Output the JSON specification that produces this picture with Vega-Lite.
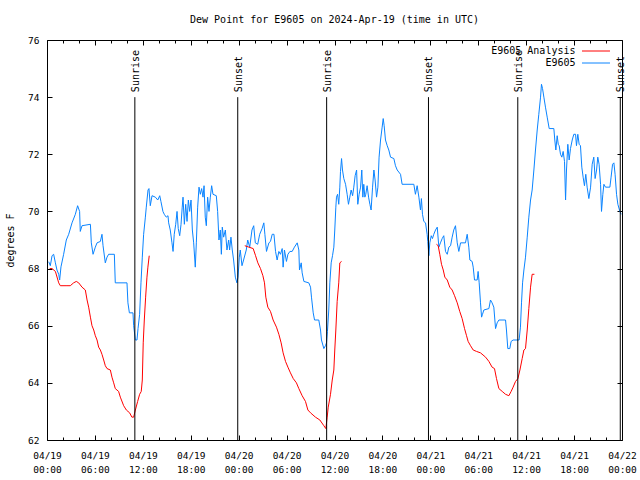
{
  "$schema": "https://vega.github.io/schema/vega-lite/v6.json",
  "width": 575,
  "height": 400,
  "autosize": {"type": "none"},
  "padding": {"left": 47, "top": 40, "right": 18, "bottom": 40},
  "background": "white",
  "title": {"text": "Dew Point for E9605 on 2024-Apr-19 (time in UTC)", "font": "DejaVu Sans Mono", "fontSize": 10, "fontWeight": "normal", "color": "black", "offset": 10, "anchor": "middle"},
  "config": {
    "view": {"stroke": "black", "strokeWidth": 1},
    "font": "DejaVu Sans Mono",
    "legend": {"orient": "none", "legendX": 542.5, "legendY": 4.5, "title": null, "symbolType": "M-2.333,0H2.333", "symbolSize": 144, "symbolStrokeWidth": 1, "labelFont": "DejaVu Sans Mono", "labelFontSize": 10, "labelColor": "black", "labelAlign": "right", "labelOffset": -27, "padding": 0, "rowPadding": 0, "labelLimit": 300}
  },
  "datasets": {
    "blue": [
      {"t":"2024-04-19T00:13Z","v":68.24},{"t":"2024-04-19T00:25Z","v":68.1},{"t":"2024-04-19T00:38Z","v":68.45},{"t":"2024-04-19T00:50Z","v":68.5},{"t":"2024-04-19T01:03Z","v":68.2},{"t":"2024-04-19T01:15Z","v":67.95},{"t":"2024-04-19T01:28Z","v":67.8},{"t":"2024-04-19T01:35Z","v":67.6},{"t":"2024-04-19T01:45Z","v":68.06},{"t":"2024-04-19T02:05Z","v":68.5},{"t":"2024-04-19T02:25Z","v":69.0},{"t":"2024-04-19T02:43Z","v":69.2},{"t":"2024-04-19T03:08Z","v":69.6},{"t":"2024-04-19T03:33Z","v":69.9},{"t":"2024-04-19T03:50Z","v":70.2},{"t":"2024-04-19T04:05Z","v":70.0},{"t":"2024-04-19T04:10Z","v":69.3},{"t":"2024-04-19T04:23Z","v":69.5},{"t":"2024-04-19T05:26Z","v":69.55},{"t":"2024-04-19T05:33Z","v":68.9},{"t":"2024-04-19T05:46Z","v":68.5},{"t":"2024-04-19T06:03Z","v":68.75},{"t":"2024-04-19T06:16Z","v":68.9},{"t":"2024-04-19T06:41Z","v":68.95},{"t":"2024-04-19T06:53Z","v":69.2},{"t":"2024-04-19T07:01Z","v":68.8},{"t":"2024-04-19T07:18Z","v":68.2},{"t":"2024-04-19T07:31Z","v":68.4},{"t":"2024-04-19T07:43Z","v":68.5},{"t":"2024-04-19T08:26Z","v":68.5},{"t":"2024-04-19T08:33Z","v":67.5},{"t":"2024-04-19T10:01Z","v":67.5},{"t":"2024-04-19T10:08Z","v":66.8},{"t":"2024-04-19T10:19Z","v":66.45},{"t":"2024-04-19T10:46Z","v":66.45},{"t":"2024-04-19T10:51Z","v":66.0},{"t":"2024-04-19T11:04Z","v":65.5},{"t":"2024-04-19T11:16Z","v":65.5},{"t":"2024-04-19T11:24Z","v":65.9},{"t":"2024-04-19T11:36Z","v":66.4},{"t":"2024-04-19T11:46Z","v":67.5},{"t":"2024-04-19T11:56Z","v":68.4},{"t":"2024-04-19T12:06Z","v":69.2},{"t":"2024-04-19T12:19Z","v":69.8},{"t":"2024-04-19T12:26Z","v":70.15},{"t":"2024-04-19T12:39Z","v":70.75},{"t":"2024-04-19T12:46Z","v":70.8},{"t":"2024-04-19T12:56Z","v":70.2},{"t":"2024-04-19T13:09Z","v":70.55},{"t":"2024-04-19T13:34Z","v":70.5},{"t":"2024-04-19T13:52Z","v":70.4},{"t":"2024-04-19T14:07Z","v":70.55},{"t":"2024-04-19T14:16Z","v":70.35},{"t":"2024-04-19T14:31Z","v":70.0},{"t":"2024-04-19T14:41Z","v":69.9},{"t":"2024-04-19T14:56Z","v":69.8},{"t":"2024-04-19T15:09Z","v":69.85},{"t":"2024-04-19T15:14Z","v":69.6},{"t":"2024-04-19T15:26Z","v":69.35},{"t":"2024-04-19T15:39Z","v":68.9},{"t":"2024-04-19T15:47Z","v":68.6},{"t":"2024-04-19T15:56Z","v":69.2},{"t":"2024-04-19T16:07Z","v":69.55},{"t":"2024-04-19T16:17Z","v":70.0},{"t":"2024-04-19T16:26Z","v":69.4},{"t":"2024-04-19T16:37Z","v":69.15},{"t":"2024-04-19T16:47Z","v":69.55},{"t":"2024-04-19T16:56Z","v":70.15},{"t":"2024-04-19T17:02Z","v":70.5},{"t":"2024-04-19T17:12Z","v":69.55},{"t":"2024-04-19T17:22Z","v":70.25},{"t":"2024-04-19T17:32Z","v":69.65},{"t":"2024-04-19T17:42Z","v":70.4},{"t":"2024-04-19T17:52Z","v":70.0},{"t":"2024-04-19T18:02Z","v":70.4},{"t":"2024-04-19T18:12Z","v":69.35},{"t":"2024-04-19T18:22Z","v":68.9},{"t":"2024-04-19T18:34Z","v":68.05},{"t":"2024-04-19T18:42Z","v":68.9},{"t":"2024-04-19T18:52Z","v":70.15},{"t":"2024-04-19T19:02Z","v":70.85},{"t":"2024-04-19T19:12Z","v":70.6},{"t":"2024-04-19T19:22Z","v":70.8},{"t":"2024-04-19T19:32Z","v":70.5},{"t":"2024-04-19T19:40Z","v":70.9},{"t":"2024-04-19T19:49Z","v":69.8},{"t":"2024-04-19T19:57Z","v":69.5},{"t":"2024-04-19T20:07Z","v":70.5},{"t":"2024-04-19T20:17Z","v":70.0},{"t":"2024-04-19T20:27Z","v":70.5},{"t":"2024-04-19T20:37Z","v":70.9},{"t":"2024-04-19T20:47Z","v":70.6},{"t":"2024-04-19T21:12Z","v":70.55},{"t":"2024-04-19T21:22Z","v":70.0},{"t":"2024-04-19T21:32Z","v":69.0},{"t":"2024-04-19T21:42Z","v":69.35},{"t":"2024-04-19T21:50Z","v":68.5},{"t":"2024-04-19T21:57Z","v":69.45},{"t":"2024-04-19T22:07Z","v":69.1},{"t":"2024-04-19T22:20Z","v":69.35},{"t":"2024-04-19T22:32Z","v":68.65},{"t":"2024-04-19T22:45Z","v":69.0},{"t":"2024-04-19T22:52Z","v":68.65},{"t":"2024-04-19T23:02Z","v":69.1},{"t":"2024-04-19T23:12Z","v":68.65},{"t":"2024-04-19T23:22Z","v":68.3},{"t":"2024-04-19T23:35Z","v":67.7},{"t":"2024-04-19T23:47Z","v":67.5},{"t":"2024-04-19T23:55Z","v":67.7},
      {"t":"2024-04-20T00:05Z","v":68.4},{"t":"2024-04-20T00:12Z","v":68.65},{"t":"2024-04-20T00:25Z","v":68.1},{"t":"2024-04-20T00:37Z","v":68.3},{"t":"2024-04-20T00:57Z","v":68.65},{"t":"2024-04-20T01:08Z","v":69.0},{"t":"2024-04-20T01:23Z","v":68.75},{"t":"2024-04-20T01:40Z","v":69.35},{"t":"2024-04-20T01:53Z","v":69.5},{"t":"2024-04-20T02:05Z","v":68.9},{"t":"2024-04-20T02:23Z","v":68.85},{"t":"2024-04-20T02:38Z","v":69.2},{"t":"2024-04-20T02:56Z","v":69.4},{"t":"2024-04-20T03:09Z","v":69.6},{"t":"2024-04-20T03:17Z","v":69.2},{"t":"2024-04-20T03:29Z","v":68.6},{"t":"2024-04-20T03:47Z","v":68.9},{"t":"2024-04-20T03:59Z","v":68.95},{"t":"2024-04-20T04:12Z","v":69.2},{"t":"2024-04-20T04:25Z","v":69.2},{"t":"2024-04-20T04:37Z","v":68.6},{"t":"2024-04-20T04:49Z","v":68.3},{"t":"2024-04-20T05:02Z","v":68.6},{"t":"2024-04-20T05:14Z","v":68.5},{"t":"2024-04-20T05:27Z","v":68.7},{"t":"2024-04-20T05:34Z","v":68.05},{"t":"2024-04-20T05:44Z","v":68.65},{"t":"2024-04-20T05:59Z","v":68.25},{"t":"2024-04-20T06:10Z","v":68.5},{"t":"2024-04-20T06:25Z","v":68.6},{"t":"2024-04-20T06:42Z","v":68.6},{"t":"2024-04-20T06:59Z","v":68.75},{"t":"2024-04-20T07:20Z","v":68.9},{"t":"2024-04-20T07:32Z","v":68.65},{"t":"2024-04-20T07:37Z","v":67.95},{"t":"2024-04-20T07:50Z","v":68.2},{"t":"2024-04-20T07:57Z","v":67.85},{"t":"2024-04-20T08:10Z","v":67.55},{"t":"2024-04-20T08:47Z","v":67.5},{"t":"2024-04-20T09:00Z","v":67.35},{"t":"2024-04-20T09:07Z","v":67.0},{"t":"2024-04-20T09:20Z","v":66.45},{"t":"2024-04-20T09:30Z","v":66.2},{"t":"2024-04-20T10:02Z","v":66.2},{"t":"2024-04-20T10:15Z","v":65.85},{"t":"2024-04-20T10:22Z","v":65.5},{"t":"2024-04-20T10:40Z","v":65.2},{"t":"2024-04-20T10:52Z","v":65.3},{"t":"2024-04-20T11:00Z","v":65.4},{"t":"2024-04-20T11:07Z","v":65.8},{"t":"2024-04-20T11:17Z","v":66.55},{"t":"2024-04-20T11:25Z","v":67.5},{"t":"2024-04-20T11:35Z","v":68.2},{"t":"2024-04-20T11:45Z","v":68.45},{"t":"2024-04-20T11:55Z","v":68.75},{"t":"2024-04-20T12:02Z","v":69.35},{"t":"2024-04-20T12:10Z","v":70.15},{"t":"2024-04-20T12:15Z","v":70.5},{"t":"2024-04-20T12:23Z","v":70.6},{"t":"2024-04-20T12:32Z","v":70.25},{"t":"2024-04-20T12:40Z","v":70.85},{"t":"2024-04-20T12:45Z","v":71.4},{"t":"2024-04-20T12:53Z","v":71.85},{"t":"2024-04-20T13:00Z","v":71.45},{"t":"2024-04-20T13:10Z","v":71.15},{"t":"2024-04-20T13:23Z","v":70.95},{"t":"2024-04-20T13:35Z","v":70.6},{"t":"2024-04-20T13:45Z","v":70.25},{"t":"2024-04-20T13:55Z","v":70.5},{"t":"2024-04-20T14:05Z","v":70.75},{"t":"2024-04-20T14:16Z","v":70.55},{"t":"2024-04-20T14:25Z","v":70.85},{"t":"2024-04-20T14:35Z","v":71.25},{"t":"2024-04-20T14:46Z","v":71.45},{"t":"2024-04-20T14:55Z","v":70.25},{"t":"2024-04-20T15:05Z","v":70.6},{"t":"2024-04-20T15:16Z","v":70.85},{"t":"2024-04-20T15:25Z","v":71.45},{"t":"2024-04-20T15:33Z","v":70.5},{"t":"2024-04-20T15:40Z","v":70.95},{"t":"2024-04-20T15:48Z","v":70.5},{"t":"2024-04-20T15:55Z","v":70.6},{"t":"2024-04-20T16:05Z","v":70.9},{"t":"2024-04-20T16:16Z","v":70.5},{"t":"2024-04-20T16:26Z","v":70.25},{"t":"2024-04-20T16:35Z","v":70.05},{"t":"2024-04-20T16:46Z","v":70.85},{"t":"2024-04-20T16:56Z","v":71.45},{"t":"2024-04-20T17:05Z","v":71.1},{"t":"2024-04-20T17:16Z","v":70.5},{"t":"2024-04-20T17:26Z","v":70.85},{"t":"2024-04-20T17:35Z","v":71.9},{"t":"2024-04-20T17:46Z","v":72.5},{"t":"2024-04-20T17:58Z","v":72.95},{"t":"2024-04-20T18:06Z","v":73.25},{"t":"2024-04-20T18:13Z","v":73.0},{"t":"2024-04-20T18:23Z","v":72.5},{"t":"2024-04-20T18:36Z","v":72.3},{"t":"2024-04-20T18:48Z","v":72.15},{"t":"2024-04-20T19:01Z","v":71.9},{"t":"2024-04-20T19:26Z","v":71.85},{"t":"2024-04-20T19:38Z","v":71.6},{"t":"2024-04-20T19:51Z","v":71.45},{"t":"2024-04-20T20:16Z","v":71.3},{"t":"2024-04-20T20:28Z","v":70.95},{"t":"2024-04-20T21:56Z","v":70.95},{"t":"2024-04-20T22:08Z","v":70.6},{"t":"2024-04-20T22:21Z","v":70.9},{"t":"2024-04-20T22:34Z","v":70.5},{"t":"2024-04-20T22:46Z","v":70.05},{"t":"2024-04-20T22:53Z","v":70.45},{"t":"2024-04-20T23:01Z","v":69.9},{"t":"2024-04-20T23:11Z","v":69.65},{"t":"2024-04-20T23:24Z","v":69.6},{"t":"2024-04-20T23:36Z","v":69.2},{"t":"2024-04-20T23:41Z","v":68.95},{"t":"2024-04-20T23:49Z","v":68.45},{"t":"2024-04-20T23:56Z","v":68.9},
      {"t":"2024-04-21T00:07Z","v":69.15},{"t":"2024-04-21T00:16Z","v":69.05},{"t":"2024-04-21T00:26Z","v":69.2},{"t":"2024-04-21T00:39Z","v":69.35},{"t":"2024-04-21T00:52Z","v":69.45},{"t":"2024-04-21T01:04Z","v":68.75},{"t":"2024-04-21T01:16Z","v":68.9},{"t":"2024-04-21T01:29Z","v":69.05},{"t":"2024-04-21T01:41Z","v":69.15},{"t":"2024-04-21T01:54Z","v":68.6},{"t":"2024-04-21T02:07Z","v":68.5},{"t":"2024-04-21T02:19Z","v":68.75},{"t":"2024-04-21T02:32Z","v":68.8},{"t":"2024-04-21T02:44Z","v":69.1},{"t":"2024-04-21T02:56Z","v":69.35},{"t":"2024-04-21T03:09Z","v":69.5},{"t":"2024-04-21T03:22Z","v":68.9},{"t":"2024-04-21T03:34Z","v":68.6},{"t":"2024-04-21T03:47Z","v":68.9},{"t":"2024-04-21T04:24Z","v":68.9},{"t":"2024-04-21T04:37Z","v":69.2},{"t":"2024-04-21T04:49Z","v":68.75},{"t":"2024-04-21T04:57Z","v":68.3},{"t":"2024-04-21T05:14Z","v":68.25},{"t":"2024-04-21T05:22Z","v":68.05},{"t":"2024-04-21T05:32Z","v":67.6},{"t":"2024-04-21T05:52Z","v":67.6},{"t":"2024-04-21T05:59Z","v":67.9},{"t":"2024-04-21T06:07Z","v":67.5},{"t":"2024-04-21T06:17Z","v":66.8},{"t":"2024-04-21T06:25Z","v":66.3},{"t":"2024-04-21T06:32Z","v":66.4},{"t":"2024-04-21T06:42Z","v":66.55},{"t":"2024-04-21T07:20Z","v":66.6},{"t":"2024-04-21T07:32Z","v":66.9},{"t":"2024-04-21T07:44Z","v":66.8},{"t":"2024-04-21T07:57Z","v":66.65},{"t":"2024-04-21T08:10Z","v":65.9},{"t":"2024-04-21T08:22Z","v":66.1},{"t":"2024-04-21T08:35Z","v":66.2},{"t":"2024-04-21T09:25Z","v":66.2},{"t":"2024-04-21T09:32Z","v":65.85},{"t":"2024-04-21T09:42Z","v":65.2},{"t":"2024-04-21T09:57Z","v":65.2},{"t":"2024-04-21T10:07Z","v":65.45},{"t":"2024-04-21T10:22Z","v":65.5},{"t":"2024-04-21T11:07Z","v":65.5},{"t":"2024-04-21T11:17Z","v":65.95},{"t":"2024-04-21T11:25Z","v":66.8},{"t":"2024-04-21T11:33Z","v":67.5},{"t":"2024-04-21T11:43Z","v":67.95},{"t":"2024-04-21T11:55Z","v":68.4},{"t":"2024-04-21T12:08Z","v":69.1},{"t":"2024-04-21T12:20Z","v":69.8},{"t":"2024-04-21T12:33Z","v":70.4},{"t":"2024-04-21T12:45Z","v":70.75},{"t":"2024-04-21T12:58Z","v":71.45},{"t":"2024-04-21T13:10Z","v":72.15},{"t":"2024-04-21T13:23Z","v":72.85},{"t":"2024-04-21T13:35Z","v":73.4},{"t":"2024-04-21T13:48Z","v":74.0},{"t":"2024-04-21T13:55Z","v":74.45},{"t":"2024-04-21T14:03Z","v":74.3},{"t":"2024-04-21T14:13Z","v":74.0},{"t":"2024-04-21T14:25Z","v":73.65},{"t":"2024-04-21T14:38Z","v":73.3},{"t":"2024-04-21T14:53Z","v":72.9},{"t":"2024-04-21T15:28Z","v":72.9},{"t":"2024-04-21T15:35Z","v":72.5},{"t":"2024-04-21T15:43Z","v":72.15},{"t":"2024-04-21T15:53Z","v":72.65},{"t":"2024-04-21T16:01Z","v":72.35},{"t":"2024-04-21T16:08Z","v":72.3},{"t":"2024-04-21T16:18Z","v":72.0},{"t":"2024-04-21T16:28Z","v":71.9},{"t":"2024-04-21T16:38Z","v":72.1},{"t":"2024-04-21T16:48Z","v":71.75},{"t":"2024-04-21T16:56Z","v":70.4},{"t":"2024-04-21T17:03Z","v":71.45},{"t":"2024-04-21T17:13Z","v":72.35},{"t":"2024-04-21T17:23Z","v":71.8},{"t":"2024-04-21T17:33Z","v":72.2},{"t":"2024-04-21T17:46Z","v":72.5},{"t":"2024-04-21T17:58Z","v":72.7},{"t":"2024-04-21T18:11Z","v":72.7},{"t":"2024-04-21T18:18Z","v":72.3},{"t":"2024-04-21T18:28Z","v":72.7},{"t":"2024-04-21T18:38Z","v":72.35},{"t":"2024-04-21T18:48Z","v":72.3},{"t":"2024-04-21T18:58Z","v":71.55},{"t":"2024-04-21T19:08Z","v":71.2},{"t":"2024-04-21T19:18Z","v":70.9},{"t":"2024-04-21T19:28Z","v":71.3},{"t":"2024-04-21T19:38Z","v":70.85},{"t":"2024-04-21T19:51Z","v":70.45},{"t":"2024-04-21T20:04Z","v":70.85},{"t":"2024-04-21T20:16Z","v":71.65},{"t":"2024-04-21T20:28Z","v":71.9},{"t":"2024-04-21T20:38Z","v":71.15},{"t":"2024-04-21T20:49Z","v":71.45},{"t":"2024-04-21T20:58Z","v":71.9},{"t":"2024-04-21T21:08Z","v":71.65},{"t":"2024-04-21T21:19Z","v":70.95},{"t":"2024-04-21T21:26Z","v":70.0},{"t":"2024-04-21T21:36Z","v":70.6},{"t":"2024-04-21T21:44Z","v":70.95},{"t":"2024-04-21T21:56Z","v":70.85},{"t":"2024-04-21T22:29Z","v":70.85},{"t":"2024-04-21T22:38Z","v":71.2},{"t":"2024-04-21T22:49Z","v":71.65},{"t":"2024-04-21T22:59Z","v":71.7},{"t":"2024-04-21T23:08Z","v":71.3},{"t":"2024-04-21T23:19Z","v":70.6},{"t":"2024-04-21T23:29Z","v":70.25},{"t":"2024-04-21T23:44Z","v":70.0},{"t":"2024-04-21T23:54Z","v":69.9}
    ],
    "red": [
      {"t":"2024-04-19T00:20Z","v":68.0,"g":"r1"},{"t":"2024-04-19T00:38Z","v":68.0,"g":"r1"},{"t":"2024-04-19T01:03Z","v":67.9,"g":"r1"},{"t":"2024-04-19T01:28Z","v":67.5,"g":"r1"},{"t":"2024-04-19T01:40Z","v":67.4,"g":"r1"},{"t":"2024-04-19T02:30Z","v":67.4,"g":"r1"},{"t":"2024-04-19T02:55Z","v":67.4,"g":"r1"},{"t":"2024-04-19T03:20Z","v":67.5,"g":"r1"},{"t":"2024-04-19T03:40Z","v":67.55,"g":"r1"},{"t":"2024-04-19T03:58Z","v":67.5,"g":"r1"},{"t":"2024-04-19T04:23Z","v":67.35,"g":"r1"},{"t":"2024-04-19T04:48Z","v":67.25,"g":"r1"},{"t":"2024-04-19T05:01Z","v":66.9,"g":"r1"},{"t":"2024-04-19T05:13Z","v":66.65,"g":"r1"},{"t":"2024-04-19T05:26Z","v":66.3,"g":"r1"},{"t":"2024-04-19T05:38Z","v":66.0,"g":"r1"},{"t":"2024-04-19T05:51Z","v":65.85,"g":"r1"},{"t":"2024-04-19T06:03Z","v":65.65,"g":"r1"},{"t":"2024-04-19T06:16Z","v":65.5,"g":"r1"},{"t":"2024-04-19T06:28Z","v":65.25,"g":"r1"},{"t":"2024-04-19T06:41Z","v":65.15,"g":"r1"},{"t":"2024-04-19T06:53Z","v":65.0,"g":"r1"},{"t":"2024-04-19T07:06Z","v":64.8,"g":"r1"},{"t":"2024-04-19T07:18Z","v":64.6,"g":"r1"},{"t":"2024-04-19T07:31Z","v":64.5,"g":"r1"},{"t":"2024-04-19T07:56Z","v":64.45,"g":"r1"},{"t":"2024-04-19T08:08Z","v":64.2,"g":"r1"},{"t":"2024-04-19T08:21Z","v":64.0,"g":"r1"},{"t":"2024-04-19T08:33Z","v":63.8,"g":"r1"},{"t":"2024-04-19T08:58Z","v":63.7,"g":"r1"},{"t":"2024-04-19T09:11Z","v":63.5,"g":"r1"},{"t":"2024-04-19T09:36Z","v":63.2,"g":"r1"},{"t":"2024-04-19T09:56Z","v":63.05,"g":"r1"},{"t":"2024-04-19T10:21Z","v":62.95,"g":"r1"},{"t":"2024-04-19T10:38Z","v":62.8,"g":"r1"},{"t":"2024-04-19T10:51Z","v":62.8,"g":"r1"},{"t":"2024-04-19T11:04Z","v":63.05,"g":"r1"},{"t":"2024-04-19T11:21Z","v":63.35,"g":"r1"},{"t":"2024-04-19T11:36Z","v":63.6,"g":"r1"},{"t":"2024-04-19T11:48Z","v":63.7,"g":"r1"},{"t":"2024-04-19T11:56Z","v":64.1,"g":"r1"},{"t":"2024-04-19T12:03Z","v":65.4,"g":"r1"},{"t":"2024-04-19T12:11Z","v":66.2,"g":"r1"},{"t":"2024-04-19T12:21Z","v":67.0,"g":"r1"},{"t":"2024-04-19T12:31Z","v":67.7,"g":"r1"},{"t":"2024-04-19T12:38Z","v":68.05,"g":"r1"},{"t":"2024-04-19T12:48Z","v":68.45,"g":"r1"},
      {"t":"2024-04-20T00:46Z","v":68.8,"g":"r2"},{"t":"2024-04-20T01:17Z","v":68.75,"g":"r2"},{"t":"2024-04-20T01:49Z","v":68.7,"g":"r2"},{"t":"2024-04-20T02:07Z","v":68.45,"g":"r2"},{"t":"2024-04-20T02:24Z","v":68.2,"g":"r2"},{"t":"2024-04-20T02:44Z","v":68.0,"g":"r2"},{"t":"2024-04-20T03:02Z","v":67.75,"g":"r2"},{"t":"2024-04-20T03:14Z","v":67.5,"g":"r2"},{"t":"2024-04-20T03:24Z","v":67.0,"g":"r2"},{"t":"2024-04-20T03:39Z","v":66.65,"g":"r2"},{"t":"2024-04-20T03:59Z","v":66.5,"g":"r2"},{"t":"2024-04-20T04:19Z","v":66.2,"g":"r2"},{"t":"2024-04-20T04:44Z","v":65.95,"g":"r2"},{"t":"2024-04-20T05:02Z","v":65.7,"g":"r2"},{"t":"2024-04-20T05:19Z","v":65.4,"g":"r2"},{"t":"2024-04-20T05:34Z","v":65.05,"g":"r2"},{"t":"2024-04-20T05:52Z","v":64.75,"g":"r2"},{"t":"2024-04-20T06:10Z","v":64.55,"g":"r2"},{"t":"2024-04-20T06:29Z","v":64.35,"g":"r2"},{"t":"2024-04-20T06:50Z","v":64.15,"g":"r2"},{"t":"2024-04-20T07:14Z","v":64.0,"g":"r2"},{"t":"2024-04-20T07:32Z","v":63.8,"g":"r2"},{"t":"2024-04-20T07:57Z","v":63.55,"g":"r2"},{"t":"2024-04-20T08:22Z","v":63.35,"g":"r2"},{"t":"2024-04-20T08:40Z","v":63.05,"g":"r2"},{"t":"2024-04-20T09:00Z","v":62.95,"g":"r2"},{"t":"2024-04-20T09:37Z","v":62.8,"g":"r2"},{"t":"2024-04-20T10:10Z","v":62.7,"g":"r2"},{"t":"2024-04-20T10:40Z","v":62.5,"g":"r2"},{"t":"2024-04-20T10:55Z","v":62.4,"g":"r2"},{"t":"2024-04-20T11:05Z","v":62.8,"g":"r2"},{"t":"2024-04-20T11:13Z","v":63.15,"g":"r2"},{"t":"2024-04-20T11:30Z","v":63.6,"g":"r2"},{"t":"2024-04-20T11:43Z","v":64.1,"g":"r2"},{"t":"2024-04-20T11:55Z","v":64.45,"g":"r2"},{"t":"2024-04-20T12:02Z","v":65.15,"g":"r2"},{"t":"2024-04-20T12:10Z","v":65.85,"g":"r2"},{"t":"2024-04-20T12:20Z","v":66.85,"g":"r2"},{"t":"2024-04-20T12:32Z","v":67.5,"g":"r2"},{"t":"2024-04-20T12:40Z","v":68.2,"g":"r2"},{"t":"2024-04-20T12:53Z","v":68.25,"g":"r2"},
      {"t":"2024-04-21T00:46Z","v":68.85,"g":"r3"},{"t":"2024-04-21T00:59Z","v":68.8,"g":"r3"},{"t":"2024-04-21T01:11Z","v":68.5,"g":"r3"},{"t":"2024-04-21T01:24Z","v":68.15,"g":"r3"},{"t":"2024-04-21T01:37Z","v":67.95,"g":"r3"},{"t":"2024-04-21T01:49Z","v":67.7,"g":"r3"},{"t":"2024-04-21T02:07Z","v":67.6,"g":"r3"},{"t":"2024-04-21T02:26Z","v":67.35,"g":"r3"},{"t":"2024-04-21T02:44Z","v":67.25,"g":"r3"},{"t":"2024-04-21T03:02Z","v":67.05,"g":"r3"},{"t":"2024-04-21T03:22Z","v":66.8,"g":"r3"},{"t":"2024-04-21T03:41Z","v":66.5,"g":"r3"},{"t":"2024-04-21T03:59Z","v":66.25,"g":"r3"},{"t":"2024-04-21T04:17Z","v":65.9,"g":"r3"},{"t":"2024-04-21T04:32Z","v":65.65,"g":"r3"},{"t":"2024-04-21T04:44Z","v":65.45,"g":"r3"},{"t":"2024-04-21T05:02Z","v":65.3,"g":"r3"},{"t":"2024-04-21T05:22Z","v":65.15,"g":"r3"},{"t":"2024-04-21T05:47Z","v":65.1,"g":"r3"},{"t":"2024-04-21T06:17Z","v":65.05,"g":"r3"},{"t":"2024-04-21T06:55Z","v":64.9,"g":"r3"},{"t":"2024-04-21T07:20Z","v":64.75,"g":"r3"},{"t":"2024-04-21T07:44Z","v":64.55,"g":"r3"},{"t":"2024-04-21T08:02Z","v":64.5,"g":"r3"},{"t":"2024-04-21T08:17Z","v":64.15,"g":"r3"},{"t":"2024-04-21T08:35Z","v":63.8,"g":"r3"},{"t":"2024-04-21T09:00Z","v":63.7,"g":"r3"},{"t":"2024-04-21T09:25Z","v":63.6,"g":"r3"},{"t":"2024-04-21T09:50Z","v":63.55,"g":"r3"},{"t":"2024-04-21T10:07Z","v":63.7,"g":"r3"},{"t":"2024-04-21T10:22Z","v":63.85,"g":"r3"},{"t":"2024-04-21T10:40Z","v":64.05,"g":"r3"},{"t":"2024-04-21T10:58Z","v":64.15,"g":"r3"},{"t":"2024-04-21T11:13Z","v":64.45,"g":"r3"},{"t":"2024-04-21T11:30Z","v":64.85,"g":"r3"},{"t":"2024-04-21T11:43Z","v":65.15,"g":"r3"},{"t":"2024-04-21T11:55Z","v":65.2,"g":"r3"},{"t":"2024-04-21T12:08Z","v":65.85,"g":"r3"},{"t":"2024-04-21T12:20Z","v":66.6,"g":"r3"},{"t":"2024-04-21T12:33Z","v":67.35,"g":"r3"},{"t":"2024-04-21T12:45Z","v":67.8,"g":"r3"},{"t":"2024-04-21T13:02Z","v":67.8,"g":"r3"}
    ],
    "sun": [
      {"t":"2024-04-19T11:00Z","e":"Sunrise"},
      {"t":"2024-04-19T23:53Z","e":"Sunset"},
      {"t":"2024-04-20T11:01Z","e":"Sunrise"},
      {"t":"2024-04-20T23:46Z","e":"Sunset"},
      {"t":"2024-04-21T10:57Z","e":"Sunrise"},
      {"t":"2024-04-21T23:47Z","e":"Sunset"}
    ]
  },
  "resolve": {"axis": {"x": "independent", "y": "independent"}},
  "layer": [
    {
      "data": {"name": "blue"},
      "mark": {"type": "line", "strokeWidth": 1},
      "encoding": {
        "x": {"field": "t", "type": "temporal",
          "scale": {"type": "utc", "domain": [1713484800000, 1713744000000]},
          "axis": {"orient": "bottom", "title": null, "grid": false, "domain": false,
            "values": [1713484800000, 1713506400000, 1713528000000, 1713549600000, 1713571200000, 1713592800000, 1713614400000, 1713636000000, 1713657600000, 1713679200000, 1713700800000, 1713722400000, 1713744000000],
            "tickColor": "black", "tickSize": 5, "offset": -5,
            "labelExpr": "[utcFormat(datum.value, '%m/%d'), utcFormat(datum.value, '%H:%M')]",
            "labelFont": "DejaVu Sans Mono", "labelFontSize": 9.5, "labelColor": "black", "labelLineHeight": 14, "labelPadding": 10, "labelFlush": false, "labelOverlap": false}},
        "y": {"field": "v", "type": "quantitative",
          "scale": {"domain": [62, 76], "nice": false, "zero": false},
          "axis": {"orient": "left", "title": "degrees F", "grid": false, "domain": false, "values": [62, 64, 66, 68, 70, 72, 74, 76],
            "tickColor": "black", "tickSize": 5, "offset": -5, "labelPadding": 8, "labelFont": "DejaVu Sans Mono", "labelFontSize": 9.5, "labelColor": "black",
            "titleFont": "DejaVu Sans Mono", "titleFontSize": 10, "titleFontWeight": "normal", "titleColor": "black", "titlePadding": 12}},
        "color": {"datum": "E9605", "type": "nominal", "scale": {"domain": ["E9605 Analysis", "E9605"], "range": ["#ff0000", "#0a84ff"]}}
      }
    },
    {
      "data": {"name": "red"},
      "mark": {"type": "line", "strokeWidth": 1},
      "encoding": {
        "x": {"field": "t", "type": "temporal",
          "axis": {"orient": "bottom", "title": null, "grid": false, "domain": false, "labels": false, "tickColor": "black", "tickSize": 3, "offset": -3,
            "values": [1713492000000, 1713499200000, 1713513600000, 1713520800000, 1713535200000, 1713542400000, 1713556800000, 1713564000000, 1713578400000, 1713585600000, 1713600000000, 1713607200000, 1713621600000, 1713628800000, 1713643200000, 1713650400000, 1713664800000, 1713672000000, 1713686400000, 1713693600000, 1713708000000, 1713715200000, 1713729600000, 1713736800000]}},
        "y": {"field": "v", "type": "quantitative", "axis": null},
        "detail": {"field": "g"},
        "color": {"datum": "E9605 Analysis", "type": "nominal"}
      }
    },
    {
      "data": {"name": "sun"},
      "mark": {"type": "rule", "color": "black", "strokeWidth": 1},
      "encoding": {
        "x": {"field": "t", "type": "temporal",
          "axis": {"orient": "top", "title": null, "grid": false, "domain": false, "labels": false, "tickColor": "black", "tickSize": 5, "offset": -5,
            "values": [1713484800000, 1713506400000, 1713528000000, 1713549600000, 1713571200000, 1713592800000, 1713614400000, 1713636000000, 1713657600000, 1713679200000, 1713700800000, 1713722400000, 1713744000000]}},
        "y": {"datum": 74, "type": "quantitative",
          "axis": {"orient": "right", "title": null, "grid": false, "domain": false, "labels": false, "tickColor": "black", "tickSize": 5, "offset": -5, "values": [62, 64, 66, 68, 70, 72, 74, 76]}},
        "y2": {"datum": 62}
      }
    },
    {
      "data": {"name": "sun"},
      "mark": {"type": "text", "angle": 270, "align": "left", "baseline": "middle", "dx": 5, "dy": 1, "font": "DejaVu Sans Mono", "fontSize": 10, "color": "black"},
      "encoding": {
        "x": {"field": "t", "type": "temporal",
          "axis": {"orient": "top", "title": null, "grid": false, "domain": false, "labels": false, "tickColor": "black", "tickSize": 3, "offset": -3,
            "values": [1713492000000, 1713499200000, 1713513600000, 1713520800000, 1713535200000, 1713542400000, 1713556800000, 1713564000000, 1713578400000, 1713585600000, 1713600000000, 1713607200000, 1713621600000, 1713628800000, 1713643200000, 1713650400000, 1713664800000, 1713672000000, 1713686400000, 1713693600000, 1713708000000, 1713715200000, 1713729600000, 1713736800000]}},
        "y": {"datum": 74, "type": "quantitative", "axis": null},
        "text": {"field": "e"}
      }
    }
  ]
}
